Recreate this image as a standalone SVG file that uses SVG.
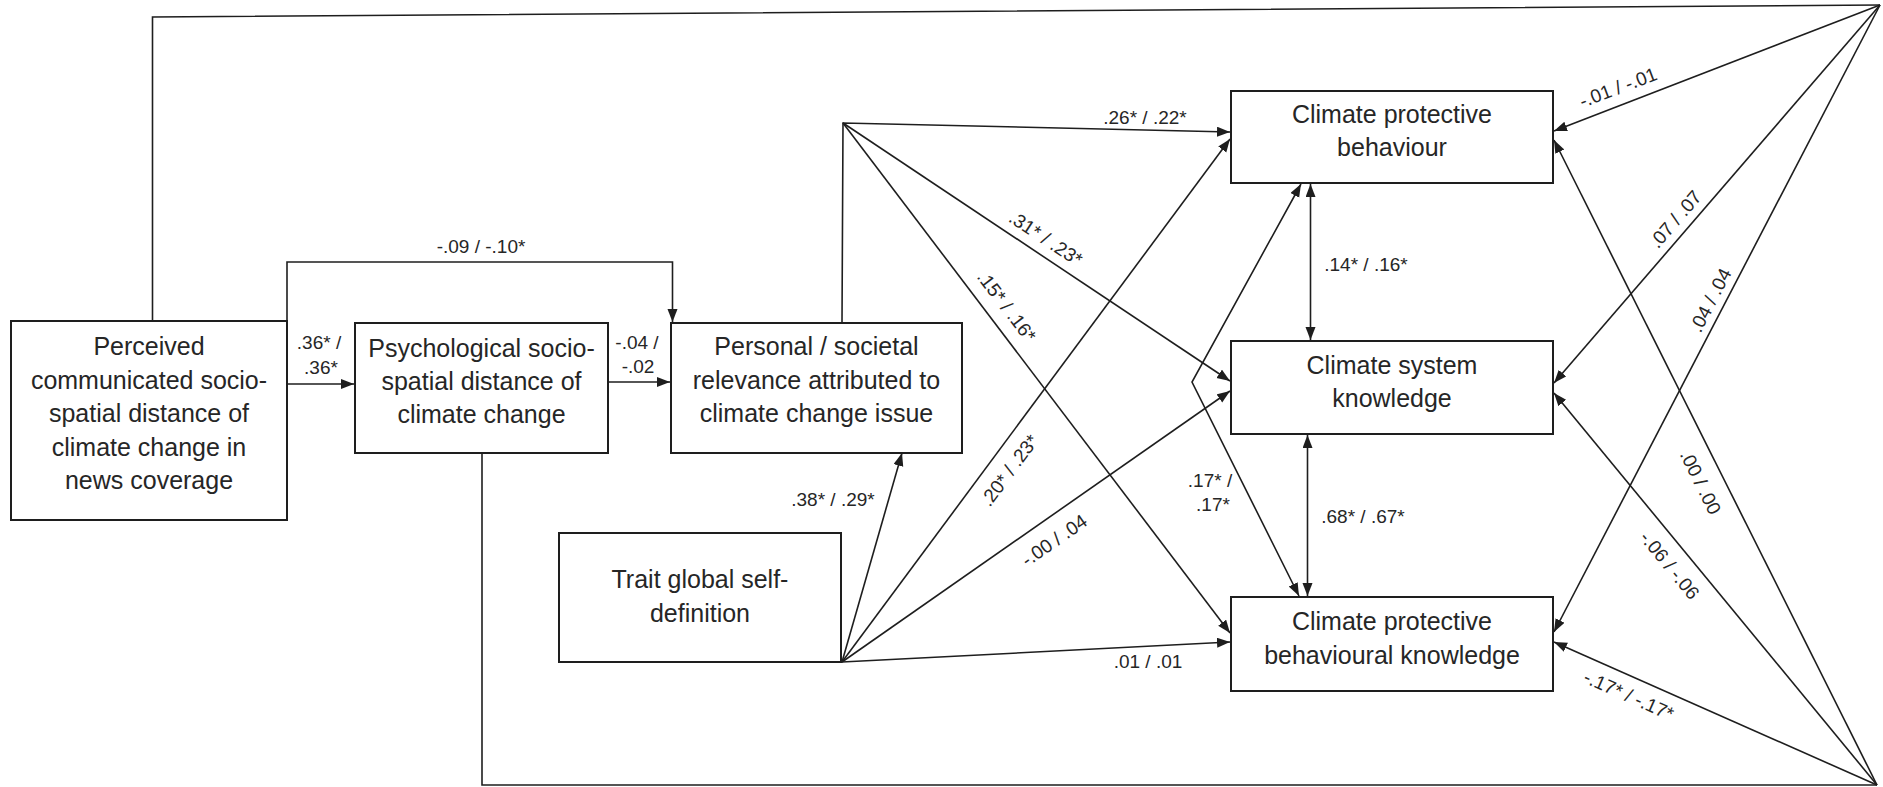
<svg xmlns="http://www.w3.org/2000/svg" width="1883" height="787" viewBox="0 0 1883 787">
  <style>
    .box { fill: #ffffff; stroke: #1e1e1e; stroke-width: 2; }
    .node-text { font-family: "Liberation Sans", Arial, sans-serif; font-size: 25px; fill: #262626; text-anchor: middle; }
    .edge { fill: none; stroke: #1e1e1e; stroke-width: 1.6; }
    .arrow { marker-end: url(#head); }
    .both { marker-start: url(#head); marker-end: url(#head); }
    .lbl { font-family: "Liberation Sans", Arial, sans-serif; font-size: 19px; fill: #262626; text-anchor: middle; }
  </style>
  <defs>
    <marker id="head" markerUnits="userSpaceOnUse" markerWidth="14" markerHeight="11" refX="13" refY="5" orient="auto-start-reverse">
      <path d="M0,0 L13,5 L0,10 z" fill="#1e1e1e"/>
    </marker>
  </defs>
  <rect width="1883" height="787" fill="#ffffff"/>

  <!-- connectors -->
  <g id="connectors">
    <!-- outer frame routes to the two fan points on the right -->
    <polyline class="edge" points="152.5,321 152.5,17 1880,5"/>
    <polyline class="edge" points="482,453 482,785 1877,785"/>

    <!-- left chain -->
    <polyline class="edge arrow" points="287,321 287,262 672.5,262 672.5,322"/>
    <line class="edge arrow" x1="287" y1="384" x2="354" y2="384"/>
    <line class="edge arrow" x1="608" y1="382" x2="670" y2="382"/>

    <!-- relevance fan -->
    <polyline class="edge arrow" points="842,323 843,123 1230,132"/>
    <line class="edge arrow" x1="843" y1="123" x2="1230" y2="381"/>
    <line class="edge arrow" x1="843" y1="123" x2="1230" y2="633"/>

    <!-- trait fan -->
    <line class="edge arrow" x1="842" y1="662" x2="902" y2="453"/>
    <line class="edge arrow" x1="842" y1="662" x2="1230" y2="139"/>
    <line class="edge arrow" x1="842" y1="662" x2="1230" y2="391"/>
    <line class="edge arrow" x1="842" y1="662" x2="1230" y2="642"/>

    <!-- correlations among outcomes -->
    <line class="edge both" x1="1310.5" y1="184" x2="1310.5" y2="340"/>
    <line class="edge both" x1="1307.5" y1="435" x2="1307.5" y2="596"/>
    <polyline class="edge both" points="1301,184 1192,382 1299,596"/>

    <!-- top-right fan -->
    <line class="edge arrow" x1="1880" y1="5" x2="1554" y2="131"/>
    <line class="edge arrow" x1="1880" y1="5" x2="1554" y2="383"/>
    <line class="edge arrow" x1="1880" y1="5" x2="1554" y2="632"/>

    <!-- bottom-right fan -->
    <line class="edge arrow" x1="1877" y1="785" x2="1554" y2="140"/>
    <line class="edge arrow" x1="1877" y1="785" x2="1554" y2="393"/>
    <line class="edge arrow" x1="1877" y1="785" x2="1554" y2="642"/>

    <!-- path coefficients -->
    <text class="lbl" x="481" y="253">-.09 / -.10*</text>
    <text class="lbl" x="319" y="349">.36* /</text>
    <text class="lbl" x="321" y="374">.36*</text>
    <text class="lbl" x="637" y="349">-.04 /</text>
    <text class="lbl" x="638" y="373">-.02</text>
    <text class="lbl" x="1145" y="124">.26* / .22*</text>
    <text class="lbl" x="833" y="506">.38* / .29*</text>
    <text class="lbl" x="1148" y="668">.01 / .01</text>
    <text class="lbl" x="1210" y="487">.17* /</text>
    <text class="lbl" x="1213" y="511">.17*</text>
    <text class="lbl" x="1366" y="271">.14* / .16*</text>
    <text class="lbl" x="1363" y="523">.68* / .67*</text>
    <text class="lbl" transform="translate(1046,238) rotate(33.6)" y="7">.31* / .23*</text>
    <text class="lbl" transform="translate(1007,306) rotate(52.7)" y="7">.15* / .16*</text>
    <text class="lbl" transform="translate(1009,470) rotate(-53.3)" y="7">.20* / .23*</text>
    <text class="lbl" transform="translate(1054,540) rotate(-34.9)" y="7">-.00 / .04</text>
    <text class="lbl" transform="translate(1618,87) rotate(-20.7)" y="7">-.01 / -.01</text>
    <text class="lbl" transform="translate(1675,219) rotate(-49.3)" y="7">.07 / .07</text>
    <text class="lbl" transform="translate(1710,300) rotate(-62.6)" y="7">.04 / .04</text>
    <text class="lbl" transform="translate(1701,482) rotate(63.7)" y="7">.00 / .00</text>
    <text class="lbl" transform="translate(1670,565) rotate(50.7)" y="7">-.06 / -.06</text>
    <text class="lbl" transform="translate(1629,695) rotate(24)" y="7">-.17* / -.17*</text>
  </g>

  <!-- nodes -->
  <g id="perceived-distance">
    <rect class="box" x="11" y="321" width="276" height="199"/>
    <text class="node-text" x="149" y="355">Perceived</text>
    <text class="node-text" x="149" y="389">communicated socio-</text>
    <text class="node-text" x="149" y="422">spatial distance of</text>
    <text class="node-text" x="149" y="456">climate change in</text>
    <text class="node-text" x="149" y="489">news coverage</text>
  </g>
  <g id="psychological-distance">
    <rect class="box" x="355" y="323" width="253" height="130"/>
    <text class="node-text" x="481.5" y="357">Psychological socio-</text>
    <text class="node-text" x="481.5" y="390">spatial distance of</text>
    <text class="node-text" x="481.5" y="423">climate change</text>
  </g>
  <g id="relevance">
    <rect class="box" x="671" y="323" width="291" height="130"/>
    <text class="node-text" x="816.5" y="355">Personal / societal</text>
    <text class="node-text" x="816.5" y="389">relevance attributed to</text>
    <text class="node-text" x="816.5" y="422">climate change issue</text>
  </g>
  <g id="trait-global">
    <rect class="box" x="559" y="533" width="282" height="129"/>
    <text class="node-text" x="700" y="588">Trait global self-</text>
    <text class="node-text" x="700" y="622">definition</text>
  </g>
  <g id="protective-behaviour">
    <rect class="box" x="1231" y="91" width="322" height="92"/>
    <text class="node-text" x="1392" y="123">Climate protective</text>
    <text class="node-text" x="1392" y="156">behaviour</text>
  </g>
  <g id="system-knowledge">
    <rect class="box" x="1231" y="341" width="322" height="93"/>
    <text class="node-text" x="1392" y="374">Climate system</text>
    <text class="node-text" x="1392" y="407">knowledge</text>
  </g>
  <g id="behavioural-knowledge">
    <rect class="box" x="1231" y="597" width="322" height="94"/>
    <text class="node-text" x="1392" y="630">Climate protective</text>
    <text class="node-text" x="1392" y="664">behavioural knowledge</text>
  </g>
</svg>
